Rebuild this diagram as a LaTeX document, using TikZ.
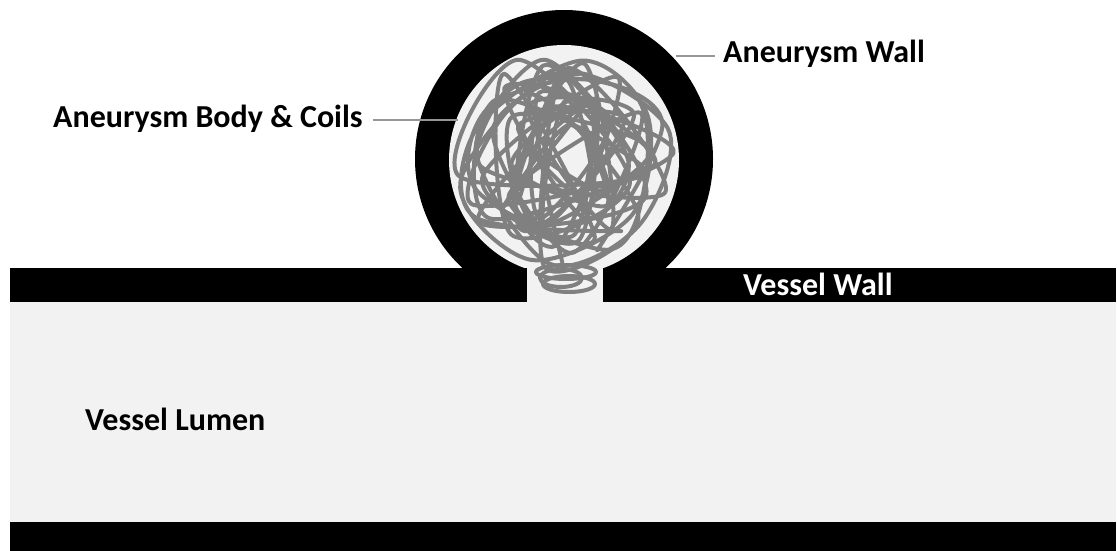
\documentclass[tikz,border=0pt]{standalone}
\usepackage{fontspec}
\setmainfont{Carlito}
\begin{document}
\begin{tikzpicture}[x=1pt,y=-1pt,
  coil/.style={draw=coilgray,line width=4pt,line join=round,line cap=round},
  leader/.style={draw=leadergray,line width=2.4pt},
  lbl/.style={font=\bfseries\fontsize{32}{36}\selectfont,inner sep=0pt,anchor=base west}]
\definecolor{lumen}{RGB}{242,242,242}
\definecolor{coilgray}{RGB}{128,128,128}
\definecolor{leadergray}{RGB}{150,150,150}
\useasboundingbox[fill=white] (0,0) rectangle (1117,551);

% aneurysm sac: black wall with light interior
\fill[black] (564,159) circle[radius=149];
\fill[lumen] (564,160) circle[radius=115];

% vessel wall (with neck opening) and lumen
\fill[black] (10,268) rectangle (527,302);
\fill[black] (603,268) rectangle (1116,302);
\fill[lumen] (527,268) rectangle (603,302);
\fill[lumen] (10,302) rectangle (1116,522);
\fill[black] (10,522) rectangle (1116,551);

% tangled coil mass inside the sac
\begin{scope}[shift={(564,160)}]
  \pgfmathsetseed{21}
  \draw[coil] plot[smooth, tension=0.55, variable=\t, samples=52, domain=1:52]
    ({\t*123+40*rand}:{112*sqrt(0.2+0.8*rnd)});
  \pgfmathsetseed{58}
  \draw[coil] plot[smooth, tension=0.55, variable=\t, samples=22, domain=1:22]
    ({\t*68+25*rand}:{110*sqrt(0.55+0.45*rnd)});
  \pgfmathsetseed{93}
  \draw[coil] plot[smooth, tension=0.55, variable=\t, samples=16, domain=1:16]
    ({\t*141+30*rand}:{90*sqrt(0.05+0.95*rnd)});
\end{scope}
% coil loops sitting in the neck
\draw[coil] (566,272) ellipse[x radius=30, y radius=7];
\draw[coil] (569,284) ellipse[x radius=26, y radius=8];
\draw[coil] (561,278) ellipse[x radius=21, y radius=9];

% labels
\node[lbl] (bodylabel) at (53,128) {Aneurysm Body \& Coils};
\node[lbl] (walllabel) at (723,63) {Aneurysm Wall};
\node[lbl,text=white] (vwall) at (743,295) {Vessel Wall};
\node[lbl] (lumenlabel) at (85,430) {Vessel Lumen};

\coordinate (bodytip) at (458,120);
\coordinate (walltip) at (676,56);
\draw[leader] ([xshift=10pt]bodylabel.east |- bodytip) -- (bodytip);
\draw[leader] (walltip) -- ([xshift=-8pt]walllabel.west |- walltip);
\end{tikzpicture}
\end{document}
